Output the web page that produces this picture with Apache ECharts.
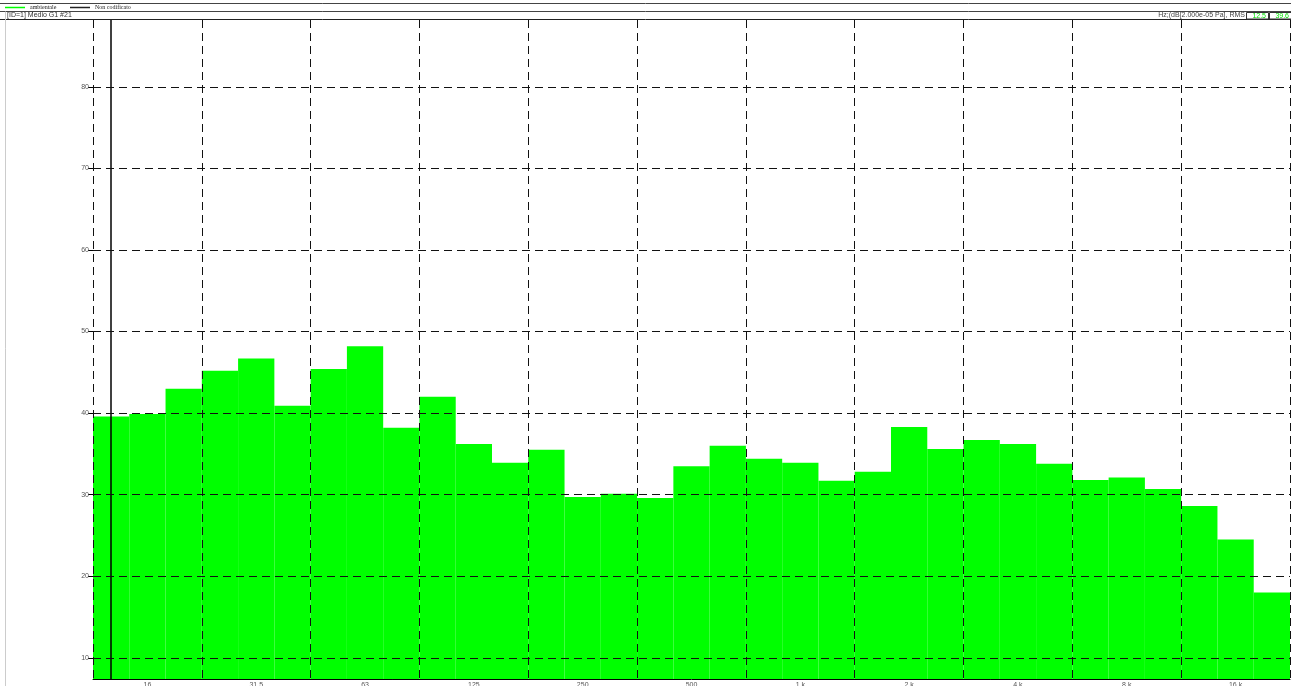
<!DOCTYPE html>
<html>
	<head>
		<meta charset="utf-8">
		<title>Spettro terzi d'ottava</title>
		<script src="https://cdn.jsdelivr.net/npm/echarts@6/dist/echarts.min.js"></script>
		<style>html,body{margin:0;padding:0;background:#fff;}</style>
	</head>
	<body>
		<div id="main" style="width:1291px;height:686px;"></div>

		<script type="text/javascript">
			// bande di terzo d'ottava (Hz)
			var bande = ['12.5', '16', '20', '25', '31.5', '40', '50', '63', '80', '100', '125',
				'160', '200', '250', '315', '400', '500', '630', '800', '1 k', '1.25 k',
				'1.6 k', '2 k', '2.5 k', '3.15 k', '4 k', '5 k', '6.3 k', '8 k', '10 k',
				'12.5 k', '16 k', '20 k'];
			// livelli misurati, dB
			var livelli = [39.6, 39.9, 43.0, 45.2, 46.7, 40.9, 45.4, 48.2, 38.2, 42.0, 36.2,
				33.9, 35.5, 29.7, 30.1, 29.6, 33.5, 36.0, 34.4, 33.9, 31.7,
				32.8, 38.3, 35.6, 36.7, 36.2, 33.8, 31.8, 32.1, 30.7,
				28.6, 24.5, 18.0];
			// limiti asse Y
			var yMin = 7.4;
			var yMax = 88.2;
			// cursore
			var bandaCursore = '12.5';
			var valoreCursore = '39.6';
			var nomeSerie = 'ambientale';
			var nomeSerie2 = 'Non codificato';
			var titolo = '[ID=1] Medio G1 #21';
			var unita = 'Hz;(dB[2.000e-05 Pa], RMS';

			var myChart = echarts.init(document.getElementById('main'));

			var tratteggio = { color: '#111', width: 1, type: [8, 5] };
			var fontPiccolo = '7px "Liberation Sans", Arial, sans-serif';
			var fontLegenda = '6px "Liberation Serif", serif';

			var option = {
				animation: false,
				backgroundColor: '#fff',
				grid: { left: 93, right: 1, top: 20, bottom: 7, outerBoundsMode: 'none', containLabel: false },
				xAxis: {
					type: 'category',
					data: bande,
					z: 10,
					axisLine: { lineStyle: { color: '#000', width: 1 } },
					axisTick: { show: false },
					axisLabel: {
						interval: function (i) { return i % 3 === 1; },
						fontSize: 7,
						color: '#555',
						margin: 3,
						fontFamily: 'Liberation Sans'
					},
					splitLine: {
						show: true,
						interval: function (i) { return i % 3 === 0; },
						lineStyle: tratteggio
					}
				},
				yAxis: {
					type: 'value',
					min: yMin,
					max: yMax,
					splitNumber: 8,
					minInterval: 10,
					maxInterval: 10,
					z: 10,
					axisLine: { show: false },
					axisTick: { show: true, length: 5, lineStyle: { color: '#000' } },
					axisLabel: {
						showMinLabel: false,
						showMaxLabel: false,
						fontSize: 7,
						color: '#555',
						margin: 4,
						fontFamily: 'Liberation Sans'
					},
					splitLine: { show: true, showMinLine: false, showMaxLine: false, lineStyle: tratteggio }
				},
				series: [
					{
						name: nomeSerie,
						type: 'bar',
						data: livelli,
						barCategoryGap: '0%',
						itemStyle: { color: '#00ff00' },
						markLine: {
							silent: true,
							symbol: 'none',
							label: { show: false },
							lineStyle: { color: '#000', width: 1.5, type: 'solid' },
							data: [{ xAxis: bandaCursore }]
						}
					}
				],
				graphic: [
					// riga legenda
					{ type: 'line', z: 20, shape: { x1: 0, y1: 3.5, x2: 1291, y2: 3.5 }, style: { stroke: '#444', lineWidth: 1 } },
					{ type: 'line', z: 20, shape: { x1: 0, y1: 11.5, x2: 1291, y2: 11.5 }, style: { stroke: '#444', lineWidth: 1 } },
					{ type: 'line', z: 20, shape: { x1: 5, y1: 7.5, x2: 25, y2: 7.5 }, style: { stroke: '#00ff00', lineWidth: 1.5 } },
					{ type: 'text', z: 20, x: 30, y: 7.5, style: { text: nomeSerie, font: fontLegenda, fill: '#222', textVerticalAlign: 'middle' } },
					{ type: 'line', z: 20, shape: { x1: 70, y1: 7.5, x2: 90, y2: 7.5 }, style: { stroke: '#222', lineWidth: 1.5 } },
					{ type: 'text', z: 20, x: 95, y: 7.5, style: { text: nomeSerie2, font: fontLegenda, fill: '#222', textVerticalAlign: 'middle' } },
					// riga intestazione
					{ type: 'line', z: 20, shape: { x1: 0, y1: 19.5, x2: 1291, y2: 19.5 }, style: { stroke: '#222', lineWidth: 1 } },
					{ type: 'line', z: 20, shape: { x1: 5.5, y1: 11.5, x2: 5.5, y2: 686 }, style: { stroke: '#ccc', lineWidth: 1 } },
					{ type: 'text', z: 20, x: 7, y: 15.5, style: { text: titolo, font: fontPiccolo, fill: '#333', textVerticalAlign: 'middle' } },
					{ type: 'text', z: 20, x: 1245, y: 15.5, style: { text: unita, font: fontPiccolo, fill: '#444', textAlign: 'right', textVerticalAlign: 'middle' } },
					{ type: 'rect', z: 20, shape: { x: 1246.5, y: 12.5, width: 22, height: 6.5 }, style: { stroke: '#333', fill: '#fff', lineWidth: 1 } },
					{ type: 'text', z: 21, x: 1266, y: 15.8, style: { text: bandaCursore, font: fontPiccolo, fill: '#00e000', textAlign: 'right', textVerticalAlign: 'middle' } },
					{ type: 'rect', z: 20, shape: { x: 1269.5, y: 12.5, width: 22, height: 6.5 }, style: { stroke: '#333', fill: '#fff', lineWidth: 1 } },
					{ type: 'text', z: 21, x: 1289, y: 15.8, style: { text: valoreCursore, font: fontPiccolo, fill: '#00e000', textAlign: 'right', textVerticalAlign: 'middle' } }
				]
			};

			myChart.setOption(option);
		</script>
	</body>
</html>
